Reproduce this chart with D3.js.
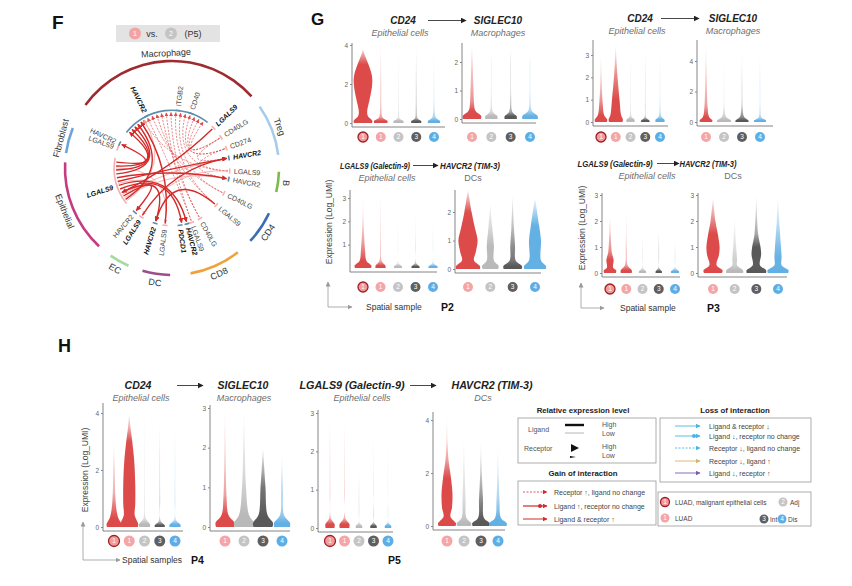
<!DOCTYPE html>
<meta charset="utf-8">
<style>
body { margin: 0; background: #fff; }
svg { font-family: "Liberation Sans", Arial, sans-serif; }
</style>
<svg id="fig" width="852" height="586"></svg>
<script src="https://cdnjs.cloudflare.com/ajax/libs/d3/7.8.5/d3.min.js"></script>
<script>

// ---------------- data ----------------
var samples5 = ["1*", "1", "2", "3", "4"];
var samples4 = ["1", "2", "3", "4"];

// violins: one list per sample of [expression (Log_UMI), relative half width]
var gP2CD24 = [
  [[0,.82],[.12,.85],[.35,.45],[.6,.38],[1.2,.6],[1.9,.82],[2.4,.82],[3.0,.5],[3.5,.15],[3.8,0]],
  [[0,.6],[.1,.62],[.3,.15],[.8,.07],[2,.05],[3,.03],[4.1,0]],
  [[0,.45],[.1,.45],[.25,.1],[.8,.05],[2,.03],[4.1,0]],
  [[0,.45],[.1,.45],[.25,.12],[.8,.06],[2,.04],[4.0,0]],
  [[0,.55],[.1,.55],[.3,.15],[.8,.06],[2,.03],[4.1,0]]
];
var gP2SIGLEC10 = [
  [[0,.8],[.1,.85],[.3,.3],[.6,.18],[1.2,.12],[2,.06],[2.6,0]],
  [[0,.55],[.1,.55],[.25,.15],[.8,.05],[2,.03],[2.4,0]],
  [[0,.55],[.1,.55],[.25,.15],[.8,.05],[2,.03],[2.5,0]],
  [[0,.7],[.1,.7],[.3,.15],[.8,.05],[2,.03],[2.3,0]]
];
var gP3CD24 = [
  [[0,.65],[.1,.7],[.3,.35],[.8,.2],[1.5,.1],[2.2,.05],[3.0,0]],
  [[0,.75],[.1,.8],[.3,.6],[1,.42],[2,.2],[2.8,.08],[3.4,0]],
  [[0,.45],[.1,.45],[.25,.12],[.8,.05],[2,.03],[3.0,0]],
  [[0,.5],[.07,.45],[.2,.1],[.8,.04],[2,.03],[3.2,0]],
  [[0,.5],[.1,.5],[.25,.15],[.8,.05],[2,.03],[3.1,0]]
];
var gP3SIGLEC10 = [
  [[0,.6],[.1,.65],[.35,.3],[1,.16],[2,.1],[3.5,.05],[5.2,0]],
  [[0,.7],[.1,.7],[.35,.2],[1,.06],[2.5,.03],[4.0,0]],
  [[0,.65],[.1,.65],[.35,.2],[1,.07],[2.5,.04],[4.6,0]],
  [[0,.6],[.1,.6],[.3,.15],[1,.05],[2.5,.04],[4.5,0]]
];
var gP2LGALS9 = [
  [[0,.8],[.1,.85],[.3,.35],[.8,.2],[1.5,.1],[2.2,.04],[3,0]],
  [[0,.5],[.1,.5],[.3,.12],[1,.05],[2,.03],[3.2,0]],
  [[0,.4],[.06,.4],[.2,.08],[1,.03],[2.7,0]],
  [[0,.4],[.06,.4],[.2,.08],[1,.03],[2.5,0]],
  [[0,.45],[.06,.45],[.2,.08],[1,.03],[2.4,0]]
];
var gP2HAVCR2 = [
  [[0,1],[.1,1],[.3,.5],[.6,.65],[1,.8],[1.4,.6],[2,.3],[2.8,0]],
  [[0,.65],[.1,.7],[.3,.3],[.8,.3],[1.5,.15],[2.3,0]],
  [[0,.75],[.1,.78],[.3,.25],[.8,.2],[1.5,.1],[2.6,0]],
  [[0,.9],[.1,.92],[.3,.5],[1,.5],[1.5,.35],[2.5,0]]
];
var gP3LGALS9 = [
  [[0,.65],[.1,.7],[.2,.35],[.5,.4],[.8,.2],[1.5,.08],[2.2,0]],
  [[0,.6],[.1,.62],[.3,.15],[1,.06],[2.5,0]],
  [[0,.4],[.06,.4],[.2,.07],[1.5,0]],
  [[0,.35],[.06,.35],[.2,.06],[1.6,0]],
  [[0,.45],[.06,.45],[.2,.06],[1.2,0]]
];
var gP3HAVCR2 = [
  [[0,.75],[.1,.8],[.3,.3],[.7,.5],[1,.55],[1.5,.4],[2,.2],[2.9,0]],
  [[0,.7],[.1,.7],[.3,.2],[.5,.2],[1.2,.1],[2.1,0]],
  [[0,.8],[.1,.82],[.3,.3],[.7,.4],[1,.35],[1.5,.15],[3.0,0]],
  [[0,.85],[.1,.88],[.3,.3],[.6,.3],[1,.25],[2,.1],[2.9,0]]
];
var hP4CD24 = [
  [[0,.7],[.1,.75],[.3,.45],[.6,.25],[1.2,.12],[2,.07],[3.0,0]],
  [[0,.85],[.1,.9],[.4,.55],[.8,.6],[1.5,.6],[2.3,.5],[3.0,.3],[3.5,.12],[4.0,0]],
  [[0,.55],[.1,.55],[.3,.12],[1,.05],[2.5,.03],[4.2,0]],
  [[0,.5],[.06,.5],[.2,.1],[1,.05],[2.5,.03],[3.6,0]],
  [[0,.55],[.08,.55],[.25,.1],[1,.05],[2.5,.03],[3.7,0]]
];
var hP4SIGLEC10 = [
  [[0,.9],[.1,.95],[.3,.35],[.8,.15],[1.5,.08],[2.2,.04],[2.95,0]],
  [[0,.95],[.1,1],[.3,.5],[1,.2],[2,.08],[3,0]],
  [[0,.95],[.1,1],[.3,.45],[1,.25],[1.5,.12],[2,0]],
  [[0,.8],[.1,.8],[.3,.2],[1,.1],[1.85,0]]
];
var hP5LGALS9 = [
  [[0,.55],[.1,.58],[.25,.12],[1,.05],[2,.03],[2.9,0]],
  [[0,.6],[.1,.62],[.25,.12],[1,.05],[2,.03],[2.8,0]],
  [[0,.4],[.05,.4],[.15,.06],[1.5,0]],
  [[0,.4],[.05,.4],[.15,.06],[1,.03],[2.75,0]],
  [[0,.4],[.05,.4],[.15,.06],[1,.03],[2.6,0]]
];
var hP5HAVCR2 = [
  [[0,.85],[.1,.9],[.35,.35],[.7,.5],[1.2,.55],[1.8,.4],[2.5,.15],[3.2,.05],[4.2,0]],
  [[0,.7],[.1,.72],[.3,.25],[1,.15],[2,.08],[3.3,0]],
  [[0,.85],[.1,.88],[.3,.3],[1,.2],[2,.08],[3.2,0]],
  [[0,.85],[.1,.88],[.3,.3],[1,.15],[2,.06],[3.1,0]]
];

// tick labels
var ticks024 = [0, 2, 4];
var ticks012 = [0, 1, 2];
var ticks0123 = [0, 1, 2, 3];
var ticks123 = [1, 2, 3];

// panel F: cell groups [name, start angle, end angle] (degrees, clockwise from top)
var fGroups = [["Macrophage",-54,48],["Treg",55,83],["B",92,103],["CD4",115,133],["CD8",142,170],
               ["DC",181,196],["EC",204,215],["Epithelial",223,273],["Fibroblast",278,292]];
// genes [name, angle, bold, L=ligand / R=receptor]
var fGenes = [["HAVCR2",-26,1,"R"],["ITGB2",6,0,"R"],["CD40",19,0,"R"],["LGALS9",46,1,"L"],["CD40LG",58,0,"L"],
              ["CD274",70,0,"L"],["HAVCR2",80,1,"R"],["LGALS9",93,0,"L"],["HAVCR2",101,0,"R"],["CD40LG",116,0,"L"],
              ["LGALS9",130,0,"L"],["CD40LG",151,0,"L"],["LGALS9",160,0,"L"],["HAVCR2",165,1,"R"],["PDCD1",172,1,"R"],
              ["LGALS9",187,0,"L"],["HAVCR2",197,1,"R"],["LGALS9",212,1,"L"],["HAVCR2",220,0,"R"],
              ["LGALS9",252,1,"L"],["LGALS9",290,0,"L"],["HAVCR2",295,0,"R"]];
// links [from angle, to angle, kind] s = ligand & receptor up, d = receptor up, p = low
var fLinks = [[272,-50,"s"],[268,-46,"s"],[264,-42,"s"],[260,101,"s"],[256,80,"s"],[252,165,"s"],[248,170,"s"],
              [244,197,"s"],[240,220,"s"],[236,-38,"s"],[212,80,"s"],[187,-34,"s"],[46,244,"s"],[276,295,"s"],[130,197,"s"],
              [58,34,"d"],[58,29,"d"],[70,24,"d"],[70,19,"d"],[93,14,"d"],[116,9,"d"],[130,4,"d"],[151,-1,"d"],
              [160,-6,"d"],[151,-11,"d"],[130,-16,"d"],[116,-21,"d"],[160,-26,"d"],[93,-31,"d"],[58,80,"d"],[70,101,"d"],
              [234,-30,"p"],[238,101,"p"],[242,80,"p"],[270,187,"p"],[254,165,"p"],[93,212,"p"]];

// ---------------- drawing ----------------
var svg = d3.select("#fig");
var defs = svg.append("defs");

var vColor = { "1*": "#dc4a4a", "1": "#dc4a4a", "2": "#b9b9b9", "3": "#595959", "4": "#62b0e4" };
var cColor = { "1*": "#f39a9a", "1": "#f5a5a5", "2": "#c4c4c4", "3": "#5f5f5f", "4": "#5eaee6" };
var fColors = ["#9e2b30","#a8cbea","#7cba4a","#3c6cb5","#f0a13a","#9a4e8b","#a7d9a1","#c43b7f","#6ea3da"];

function marker(id, color, w) {
  defs.append("marker").attr("id", id).attr("viewBox", "0 0 10 10")
    .attr("refX", 9).attr("refY", 5).attr("markerUnits", "userSpaceOnUse")
    .attr("markerWidth", w).attr("markerHeight", w).attr("orient", "auto")
    .append("path").attr("d", "M0,0L10,5L0,10z").attr("fill", color);
}
marker("arK", "#222", 6);
marker("arG", "#9a9a9a", 5);
marker("arS", "#d42a2a", 5);
marker("arD", "#e04a4a", 4);
marker("arP", "#f2a2a2", 4);
marker("arB", "#45b6e8", 5);
marker("arT", "#d8b46c", 5);
marker("arV", "#7b5bb6", 5);

function txt(x, y, s, size, opt) {
  opt = opt || {};
  var t = svg.append("text").attr("x", x).attr("y", y).text(s)
    .attr("font-size", size).attr("fill", opt.fill || "#222")
    .attr("font-weight", opt.bold ? "bold" : null)
    .attr("font-style", opt.italic ? "italic" : null)
    .attr("text-anchor", opt.anchor || "middle");
  if (opt.len) t.attr("textLength", opt.len).attr("lengthAdjust", "spacingAndGlyphs");
  return t;
}

function arrow(x1, y1, x2, y2, color, m, w, dash) {
  return svg.append("line").attr("x1", x1).attr("y1", y1).attr("x2", x2).attr("y2", y2)
    .attr("stroke", color).attr("stroke-width", w || 1)
    .attr("stroke-dasharray", dash || null)
    .attr("marker-end", m ? "url(#" + m + ")" : null);
}

function sampleDot(x, y, s, rr) {
  svg.append("circle").attr("cx", x).attr("cy", y).attr("r", rr)
    .attr("fill", cColor[s]).attr("stroke", s === "1*" ? "#9c1f23" : "none").attr("stroke-width", 1.3);
  txt(x, y + 2.3, s.replace("*", ""), 6.5, { fill: "#fff" });
}

// violin panel; thin tails are drawn fainter than the body
var vgId = 0;
function violins(c, data, samples, ticks) {
  var y = d3.scaleLinear().domain([0, c.tv]).range([c.y0, c.yt]);
  var x = d3.scalePoint().domain(samples).range([c.c0, c.c1]);
  var g = svg.append("g");
  samples.forEach(function(s, i) {
    var cx = x(s), v = data[i], top = v[v.length - 1][0];
    var id = "vg" + (vgId++);
    var lg = defs.append("linearGradient").attr("id", id).attr("gradientUnits", "userSpaceOnUse")
      .attr("x1", 0).attr("x2", 0).attr("y1", y(0)).attr("y2", y(top));
    v.forEach(function(d) {
      lg.append("stop").attr("offset", d[0] / top).attr("stop-color", vColor[s])
        .attr("stop-opacity", Math.min(1, 0.08 + 3 * d[1]));
    });
    var area = d3.area().curve(d3.curveCatmullRom.alpha(0.5))
      .y(function(d) { return y(d[0]); })
      .x0(function(d) { return cx - d[1] * c.hw; })
      .x1(function(d) { return cx + d[1] * c.hw; });
    g.append("path").attr("d", area(v)).attr("fill", "url(#" + id + ")");
    sampleDot(cx, c.dy, s, c.dr || 5);
  });
  g.append("line").attr("x1", c.ax).attr("x2", c.ax).attr("y1", c.y0 + 4).attr("y2", c.top)
    .attr("stroke", "#777").attr("stroke-width", 0.9);
  g.append("line").attr("x1", c.ax).attr("x2", c.xe).attr("y1", c.y0 + 4).attr("y2", c.y0 + 4)
    .attr("stroke", "#777").attr("stroke-width", 0.9);
  var a = g.append("g").attr("transform", "translate(" + c.ax + ",0)")
    .call(d3.axisLeft(y).tickValues(ticks).tickSize(2).tickPadding(2).tickFormat(d3.format("d")));
  a.select(".domain").remove();
  a.selectAll("line").attr("stroke", "#888");
  a.selectAll("text").attr("font-size", 6.5).attr("fill", "#666").attr("font-family", null);
}

// pair header: left gene -> right gene, cell types below
function pairTitle(p) {
  txt(p.lx, p.y, p.lt, p.fs, { bold: true, italic: true, len: p.ll });
  txt(p.rx, p.y, p.rt, p.fs, { bold: true, italic: true, len: p.rl });
  arrow(p.a0, p.y - 3.5, p.a1, p.y - 3.5, "#333", "arK", 0.9);
  txt(p.lsx, p.y + 12, p.ls, 9, { italic: true, fill: "#6e6e6e" });
  txt(p.rsx, p.y + 12, p.rs, 9, { italic: p.rsi, fill: "#6e6e6e" });
}

function spatial(x, yTop, yBot, xEnd, label, lx, plab, px) {
  arrow(x, yBot, x, yTop, "#9a9a9a", "arG", 0.8);
  arrow(x, yBot, xEnd, yBot, "#9a9a9a", "arG", 0.8);
  txt(lx, yBot + 3, label, 8.5, { anchor: "start", fill: "#333" });
  if (plab) txt(px, yBot + 4, plab, 10.5, { anchor: "start", bold: true, fill: "#111" });
}

function yLabel(x, y) {
  svg.append("text").attr("transform", "translate(" + x + "," + y + ") rotate(-90)")
    .attr("text-anchor", "middle").attr("font-size", 8.5).attr("fill", "#444").text("Expression (Log_UMI)");
}

// ---------- panel letters ----------
txt(52, 29, "F", 19, { bold: true, anchor: "start", fill: "#111" });
txt(311, 25, "G", 17, { bold: true, anchor: "start", fill: "#111" });
txt(58, 352, "H", 18, { bold: true, anchor: "start", fill: "#111" });

// ---------- panel F ----------
svg.append("rect").attr("x", 116).attr("y", 25).attr("width", 104).attr("height", 17).attr("fill", "#e3e3e3");
svg.append("circle").attr("cx", 135).attr("cy", 33.5).attr("r", 6).attr("fill", "#f4a3a3");
txt(135, 36, "1", 7, { fill: "#fff" });
txt(152, 37, "vs.", 9, { fill: "#333" });
svg.append("circle").attr("cx", 171).attr("cy", 33.5).attr("r", 6).attr("fill", "#c4c4c4");
txt(171, 36, "2", 7, { fill: "#fff" });
txt(193, 37, "(P5)", 9, { fill: "#333" });

var FX = 172, FY = 168, FR = 107, Fr = 57;
var fg = svg.append("g").attr("transform", "translate(" + FX + "," + FY + ")");
var rad = function(d) { return d * Math.PI / 180; };
function pt(a, rr) { return [rr * Math.sin(rad(a)), -rr * Math.cos(rad(a))]; }

var ring = d3.arc().innerRadius(FR - 1.3).outerRadius(FR + 1.3);
fg.selectAll(".grp").data(fGroups).join("path")
  .attr("d", function(d) { return ring({ startAngle: rad(d[1]), endAngle: rad(d[2]) }); })
  .attr("fill", function(d, i) { return fColors[i]; });

fg.selectAll(".glab").data(fGroups).join("text")
  .attr("transform", function(d) {
    var m = (d[1] + d[2]) / 2, mm = (m + 360) % 360;
    var p = pt(m, FR + 5);
    var rot = (mm > 105 && mm < 260) ? mm - 180 : (mm > 180 ? mm - 360 : mm);
    return "translate(" + p[0] + "," + p[1] + ") rotate(" + rot + ")";
  })
  .attr("dy", function(d) { var mm = ((d[1] + d[2]) / 2 + 360) % 360; return (mm > 105 && mm < 260) ? "0.75em" : 0; })
  .attr("text-anchor", "middle").attr("font-size", 9).attr("fill", "#333")
  .text(function(d) { return d[0]; });

// links
var lStyle = {
  s: { c: "#d42a2a", w: 1.4, m: "arS", dash: null },
  d: { c: "#e04a4a", w: 0.7, m: "arD", dash: "2,1.4" },
  p: { c: "#f2a2a2", w: 0.8, m: "arP", dash: null }
};
fg.selectAll(".lnk").data(fLinks.slice().sort(function(a, b) { return (a[2] === "s") - (b[2] === "s"); })).join("path")
  .attr("d", function(d) {
    var p1 = pt(d[0], Fr - 1), p2 = pt(d[1], Fr - 1.5);
    return "M" + p1 + "Q0,0 " + p2;
  })
  .attr("fill", "none")
  .attr("stroke", function(d) { return lStyle[d[2]].c; })
  .attr("stroke-width", function(d) { return lStyle[d[2]].w; })
  .attr("stroke-dasharray", function(d) { return lStyle[d[2]].dash; })
  .attr("marker-end", function(d) { return "url(#" + lStyle[d[2]].m + ")"; });

// inner arcs
var inner = d3.arc().innerRadius(Fr).outerRadius(Fr + 1.6);
fg.append("path").attr("d", inner({ startAngle: rad(-52), endAngle: rad(38) })).attr("fill", "#5a8fab");
fg.append("path").attr("d", inner({ startAngle: rad(232), endAngle: rad(280) })).attr("fill", "#f4b0b0");
fg.selectAll(".tick").data(fGenes).join("path")
  .attr("d", function(d) { return inner({ startAngle: rad(d[1] - 2.5), endAngle: rad(d[1] + 2.5) }); })
  .attr("fill", function(d) { return d[3] === "R" ? "#5a8fab" : "#f4b0b0"; });

fg.selectAll(".gene").data(fGenes).join("text")
  .attr("transform", function(d) {
    var a = (d[1] + 360) % 360;
    return "rotate(" + (a - 90) + ") translate(" + (Fr + 5) + ",0)" + (a > 180 ? " rotate(180)" : "");
  })
  .attr("text-anchor", function(d) { return ((d[1] + 360) % 360) > 180 ? "end" : "start"; })
  .attr("dy", "0.35em").attr("font-size", 7)
  .attr("font-weight", function(d) { return d[2] ? "bold" : null; })
  .attr("font-style", function(d) { return d[2] ? "italic" : null; })
  .attr("fill", function(d) { return d[2] ? "#111" : "#444"; })
  .text(function(d) { return d[0]; });

// ---------- panel G ----------
pairTitle({ lx: 403, rx: 498, y: 24, fs: 10, lt: "CD24", rt: "SIGLEC10", a0: 428, a1: 466,
            lsx: 400, rsx: 498, ls: "Epithelial cells", rs: "Macrophages", rsi: true });
violins({ ax: 352, xe: 445, top: 43, y0: 123, tv: 4, yt: 45, c0: 363, c1: 434, hw: 11, dy: 137 }, gP2CD24, samples5, ticks024);
violins({ ax: 462, xe: 536, top: 43, y0: 119, tv: 2, yt: 62, c0: 472, c1: 530, hw: 11, dy: 137 }, gP2SIGLEC10, samples4, ticks012);

pairTitle({ lx: 640, rx: 733, y: 22, fs: 10, lt: "CD24", rt: "SIGLEC10", a0: 661, a1: 699,
            lsx: 637, rsx: 733, ls: "Epithelial cells", rs: "Macrophages", rsi: true });
violins({ ax: 593, xe: 668, top: 40, y0: 122, tv: 3, yt: 55, c0: 601, c1: 660, hw: 9, dy: 137 }, gP3CD24, samples5, ticks0123);
violins({ ax: 697, xe: 773, top: 40, y0: 122, tv: 4, yt: 61, c0: 706, c1: 760, hw: 10, dy: 137 }, gP3SIGLEC10, samples4, ticks024);

pairTitle({ lx: 375, rx: 470, y: 169, fs: 9.5, lt: "LGALS9 (Galectin-9)", rt: "HAVCR2 (TIM-3)", ll: 70, rl: 60,
            a0: 413, a1: 438, lsx: 387, rsx: 473, ls: "Epithelial cells", rs: "DCs", rsi: false });
violins({ ax: 350, xe: 437, top: 190, y0: 268, tv: 3, yt: 198, c0: 363, c1: 433, hw: 10, dy: 287 }, gP2LGALS9, samples5, ticks123);
violins({ ax: 455, xe: 541, top: 190, y0: 269, tv: 2, yt: 212, c0: 468, c1: 535, hw: 12, dy: 287 }, gP2HAVCR2, samples4, ticks012);
yLabel(332, 222);
spatial(328, 282, 307, 352, "Spatial sample", 366, "P2", 441);

pairTitle({ lx: 615, rx: 708, y: 167, fs: 9.5, lt: "LGALS9 (Galectin-9)", rt: "HAVCR2 (TIM-3)", ll: 75, rl: 57,
            a0: 657, a1: 679, lsx: 647, rsx: 733, ls: "Epithelial cells", rs: "DCs", rsi: false });
violins({ ax: 602, xe: 680, top: 193, y0: 273, tv: 3, yt: 195, c0: 610, c1: 675, hw: 9, dy: 289 }, gP3LGALS9, samples5, ticks0123);
violins({ ax: 698, xe: 787, top: 193, y0: 273, tv: 3, yt: 195, c0: 713, c1: 778, hw: 12, dy: 289 }, gP3HAVCR2, samples4, ticks0123);
yLabel(585, 228);
spatial(581, 283, 308, 604, "Spatial sample", 620, "P3", 707);

// ---------- panel H ----------
pairTitle({ lx: 138, rx: 243, y: 389, fs: 10.5, lt: "CD24", rt: "SIGLEC10", a0: 177, a1: 203,
            lsx: 141, rsx: 244, ls: "Epithelial cells", rs: "Macrophages", rsi: true });
violins({ ax: 103, xe: 183, top: 403, y0: 527, tv: 4, yt: 413, c0: 114, c1: 175, hw: 10, dy: 541, dr: 5.5 }, hP4CD24, samples5, ticks024);
violins({ ax: 210, xe: 290, top: 405, y0: 527, tv: 3, yt: 408, c0: 225, c1: 282, hw: 10, dy: 541, dr: 5.5 }, hP4SIGLEC10, samples4, ticks0123);

pairTitle({ lx: 352, rx: 492, y: 389, fs: 10.5, lt: "LGALS9 (Galectin-9)", rt: "HAVCR2 (TIM-3)", ll: 105, rl: 81,
            a0: 410, a1: 436, lsx: 362, rsx: 483, ls: "Epithelial cells", rs: "DCs", rsi: true });
violins({ ax: 318, xe: 393, top: 410, y0: 528, tv: 3, yt: 413, c0: 330, c1: 388, hw: 8, dy: 541, dr: 5.5 }, hP5LGALS9, samples5, ticks0123);
violins({ ax: 433, xe: 505, top: 412, y0: 526, tv: 4, yt: 420, c0: 447, c1: 498, hw: 10, dy: 541, dr: 5.5 }, hP5HAVCR2, samples4, ticks024);
yLabel(88, 470);
spatial(83, 522, 560, 120, "Spatial samples", 122, "P4", 191);
txt(388, 564, "P5", 10.5, { anchor: "start", bold: true, fill: "#111" });

// ---------- legends ----------
function box(x, y, w, h) {
  svg.append("rect").attr("x", x).attr("y", y).attr("width", w).attr("height", h)
    .attr("fill", "none").attr("stroke", "#999").attr("stroke-width", 0.8);
}
var LF = 7;

txt(583, 413, "Relative expression level", 7.8, { bold: true, fill: "#222" });
box(518, 418, 138, 45);
txt(528, 432, "Ligand", LF, { anchor: "start", fill: "#555" });
arrow(565, 425, 584, 425, "#111", null, 2.4);
arrow(565, 433, 584, 433, "#999", null, 0.7);
txt(602, 427, "High", LF, { anchor: "start", fill: "#555" });
txt(602, 436, "Low", LF, { anchor: "start", fill: "#555" });
txt(524, 451, "Receptor", LF, { anchor: "start", fill: "#555" });
svg.append("path").attr("d", "M571,444L579,448L571,452z").attr("fill", "#111");
svg.append("path").attr("d", "M570,456L576,457L570,458z").attr("fill", "#111");
txt(602, 449, "High", LF, { anchor: "start", fill: "#555" });
txt(602, 458, "Low", LF, { anchor: "start", fill: "#555" });

txt(583, 476, "Gain of interaction", 7.8, { bold: true, fill: "#222" });
box(518, 481, 138, 44);
arrow(523, 492, 547, 492, "#e04a4a", "arS", 0.9, "2,1.5");
arrow(523, 506, 547, 506, "#d42a2a", "arS", 1.2);
svg.append("circle").attr("cx", 540).attr("cy", 506).attr("r", 2).attr("fill", "#d42a2a");
arrow(523, 519, 547, 519, "#d42a2a", "arS", 1);
txt(554, 494.5, "Receptor \u2191, ligand no change", LF, { anchor: "start", fill: "#444" });
txt(554, 508.5, "Ligand \u2191, receptor no change", LF, { anchor: "start", fill: "#444" });
txt(554, 521.5, "Ligand & receptor \u2191", LF, { anchor: "start", fill: "#444" });

txt(735, 413, "Loss of interaction", 7.8, { bold: true, fill: "#222" });
box(660, 418, 151, 64);
arrow(675, 426, 700, 426, "#45b6e8", "arB", 0.9);
arrow(675, 436, 700, 436, "#45b6e8", "arB", 0.9);
svg.append("circle").attr("cx", 694).attr("cy", 436).attr("r", 2).attr("fill", "#45b6e8");
arrow(675, 448, 700, 448, "#45b6e8", "arB", 0.9, "2,1.5");
arrow(675, 461, 700, 461, "#d8b46c", "arT", 0.9);
arrow(675, 473, 700, 473, "#7b5bb6", "arV", 0.9);
txt(709, 428.5, "Ligand & receptor  \u2193", LF, { anchor: "start", fill: "#444" });
txt(709, 438.5, "Ligand \u2193,  receptor no change", LF, { anchor: "start", fill: "#444" });
txt(709, 450.5, "Receptor \u2193, ligand no change", LF, { anchor: "start", fill: "#444" });
txt(709, 463.5, "Receptor \u2193, ligand \u2191", LF, { anchor: "start", fill: "#444" });
txt(709, 475.5, "Ligand \u2193, receptor \u2191", LF, { anchor: "start", fill: "#444" });

box(658, 492, 153, 34);
sampleDot(665, 502, "1*", 4.5);
txt(675, 504.5, "LUAD, malignant epithelial cells", 6.5, { anchor: "start", fill: "#444" });
sampleDot(783, 502, "2", 4.5);
txt(790, 504.5, "Adj", 6.5, { anchor: "start", fill: "#444" });
sampleDot(665, 518, "1", 4.5);
txt(675, 520.5, "LUAD", 6.5, { anchor: "start", fill: "#444" });
sampleDot(764, 519, "3", 4.5);
txt(770, 521.5, "Int", 6.5, { anchor: "start", fill: "#444" });
sampleDot(782, 519, "4", 4.5);
txt(788, 521.5, "Dis", 6.5, { anchor: "start", fill: "#444" });

</script>
